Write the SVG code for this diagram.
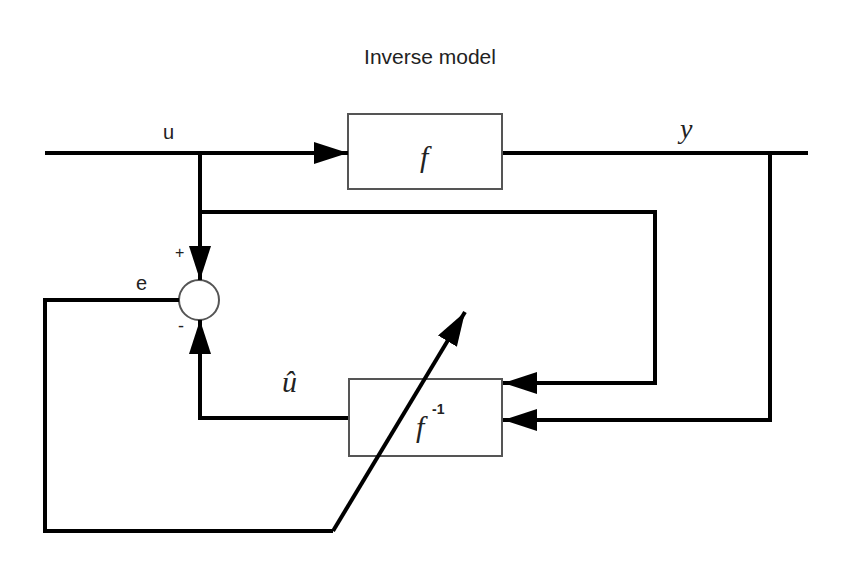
<svg xmlns="http://www.w3.org/2000/svg" width="845" height="569" viewBox="0 0 845 569">
<defs>
<marker id="big" markerWidth="34" markerHeight="22" refX="34" refY="11" orient="auto" markerUnits="userSpaceOnUse" viewBox="0 0 34 22">
<path d="M0,0 L34,11 L0,22 z" fill="#000"/>
</marker>
<style>
.w{fill:none;stroke:#000;stroke-width:4}
.box{fill:#fff;stroke:#555;stroke-width:2}
.s{font-family:"Liberation Sans",sans-serif;fill:#222}
.m{font-family:"Liberation Serif",serif;font-style:italic;fill:#222}
</style>
</defs>
<rect width="845" height="569" fill="#fff"/>
<text class="s" x="430" y="64" font-size="21" text-anchor="middle">Inverse model</text>
<g id="f"><rect class="box" x="348" y="114" width="154" height="75"/>
<text class="m" x="420" y="167" font-size="30">f</text></g>
<g id="finv"><rect class="box" x="349" y="379" width="153" height="77"/>
<text class="m" x="416" y="437" font-size="30">f</text>
<text class="s" x="432" y="414" font-size="14" font-weight="bold">-1</text></g>
<g id="sum"><circle cx="199" cy="300" r="20" fill="#fff" stroke="#555" stroke-width="2"/></g>
<g id="connectors">
<path class="w" d="M45,153 H348" marker-end="url(#big)"/>
<path class="w" d="M503,153 H808"/>
<path class="w" d="M200,153 V280" marker-end="url(#big)"/>
<path class="w" d="M200,212 H655 V383 H503" marker-end="url(#big)"/>
<path class="w" d="M770,153 V420 H503" marker-end="url(#big)"/>
<path class="w" d="M348,418 H200 V320" marker-end="url(#big)"/>
<path class="w" d="M179,300 H45 V531 H333"/>
<path class="w" d="M333,531 L465,312" marker-end="url(#big)"/>
</g>
<text class="s" x="163" y="139" font-size="20">u</text>
<text class="m" x="680" y="138" font-size="28">y</text>
<text class="s" x="136" y="290" font-size="20">e</text>
<text class="s" x="175" y="258" font-size="16">+</text>
<text class="s" x="178" y="332" font-size="18">-</text>
<text class="m" x="282" y="392" font-size="30">û</text>
</svg>
